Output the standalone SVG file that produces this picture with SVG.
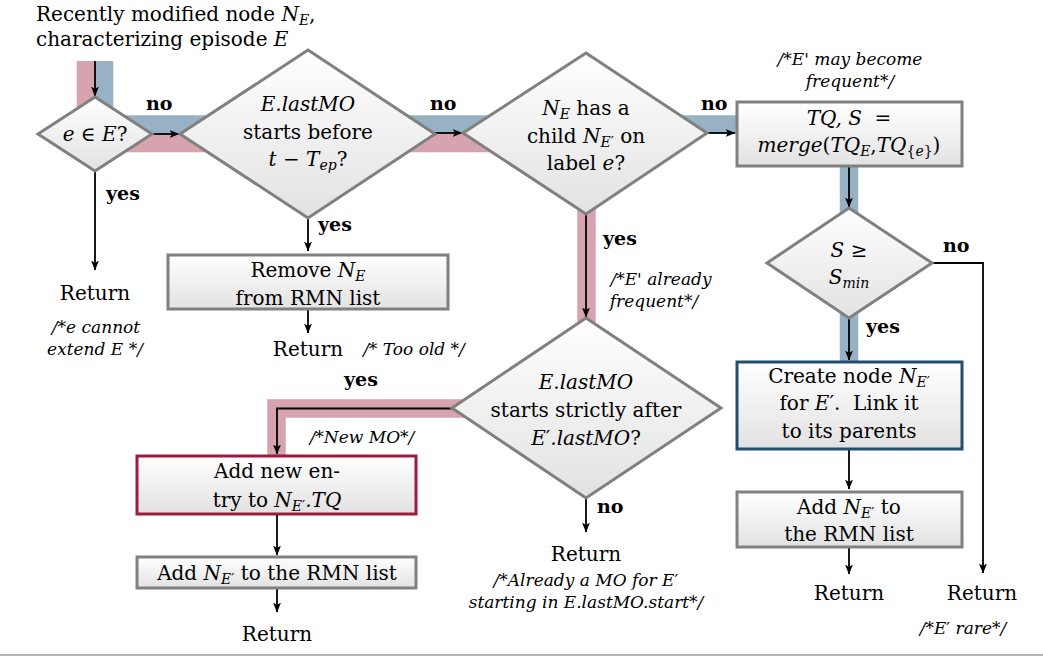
<svg xmlns="http://www.w3.org/2000/svg" width="1043" height="656" viewBox="0 0 1043 656">
  <defs>
    <linearGradient id="g" x1="0" y1="0" x2="0" y2="1">
      <stop offset="0" stop-color="#ffffff"/>
      <stop offset="1" stop-color="#e2e2e2"/>
    </linearGradient>
    <marker id="arr" markerUnits="userSpaceOnUse" markerWidth="10" markerHeight="8" refX="9.5" refY="4" orient="auto">
      <path d="M0,0 L10,4 L0,8 L2.5,4 z" fill="#000"/>
    </marker>
  </defs>
  <style>
    .t{font-family:"DejaVu Serif","Liberation Serif",serif;font-size:20px;fill:#000;text-anchor:middle}
    .l{text-anchor:start}
    .m{font-style:italic}
    .n{font-style:normal}
    .s{font-size:14px}
    .c{font-family:"DejaVu Serif","Liberation Serif",serif;font-style:italic;font-size:17px;fill:#000;text-anchor:middle}
    .b{font-family:"DejaVu Serif","Liberation Serif",serif;font-weight:bold;font-size:19px;fill:#000}
    .shape{fill:url(#g);stroke:#808080;stroke-width:3}
    .red{stroke:#9a1b3b}
    .blue{stroke:#1f4e6e}
    .ln{stroke:#000;stroke-width:1.8;fill:none}
    .arr{marker-end:url(#arr)}
    .band{fill:none;stroke-width:18.5;stroke-linejoin:miter}
  </style>

  <rect width="1043" height="656" fill="#fff"/>

  <!-- highlighted paths through the flow -->
  <g id="bands">
    <path class="band" stroke="#d6a3ae" d="M86,61 V143 H586.5 V408.5 H276.5 V456"/>
    <path class="band" stroke="#97b1c5" d="M104,61 V124.5 H849 V362"/>
  </g>

  <!-- connectors -->
  <g id="connectors">
    <path class="ln arr" d="M95,61 V96"/>
    <path class="ln arr" d="M152,134 H179"/>
    <path class="ln arr" d="M95,172 V270"/>
    <path class="ln arr" d="M308,218 V251"/>
    <path class="ln arr" d="M308,309 V333"/>
    <path class="ln arr" d="M435,133 H462"/>
    <path class="ln arr" d="M707,133 H735"/>
    <path class="ln arr" d="M586,214 V317"/>
    <path class="ln arr" d="M849,166 V207"/>
    <path class="ln arr" d="M849,318 V360"/>
    <path class="ln arr" d="M932,263 H983 V573"/>
    <path class="ln arr" d="M849,449 V489"/>
    <path class="ln arr" d="M849,547 V574"/>
    <path class="ln arr" d="M452,408.5 H277 V454"/>
    <path class="ln arr" d="M586,498 V532"/>
    <path class="ln arr" d="M277,514 V555"/>
    <path class="ln arr" d="M277,588 V612"/>
  </g>

  <!-- branch labels -->
  <g id="labels">
    <text class="b" x="146" y="110">no</text>
    <text class="b" x="430" y="110">no</text>
    <text class="b" x="701" y="110">no</text>
    <text class="b" x="943" y="252">no</text>
    <text class="b" x="106" y="200">yes</text>
    <text class="b" x="318" y="231">yes</text>
    <text class="b" x="603" y="245">yes</text>
    <text class="b" x="866" y="333">yes</text>
    <text class="b" x="344" y="386">yes</text>
    <text class="b" x="597" y="513">no</text>
  </g>

  <!-- start text -->
  <g id="start">
    <text class="t l" x="36" y="21">Recently modified node <tspan class="m">N</tspan><tspan class="m s" dy="4">E</tspan><tspan dy="-4">,</tspan></text>
    <text class="t l" x="36" y="46">characterizing episode <tspan class="m">E</tspan></text>
  </g>

  <g id="d1">
    <polygon class="shape" points="95,97 152,134 95,171 38,134"/>
    <text class="t" x="95" y="141"><tspan class="m">e</tspan> ∈ <tspan class="m">E</tspan>?</text>
  </g>

  <g id="d2">
    <polygon class="shape" points="308,50 435,134 308,218 180,134"/>
    <text class="t" x="308" y="111"><tspan class="m">E.lastMO</tspan></text>
    <text class="t" x="308" y="139">starts before</text>
    <text class="t" x="308" y="166"><tspan class="m">t</tspan> − <tspan class="m">T</tspan><tspan class="m s" dy="4">ep</tspan><tspan dy="-4">?</tspan></text>
  </g>

  <g id="d3">
    <polygon class="shape" points="586,53 707,133 586,214 463,133"/>
    <text class="t" x="586" y="115"><tspan class="m">N</tspan><tspan class="m s" dy="4">E</tspan><tspan dy="-4"> has a</tspan></text>
    <text class="t" x="586" y="143">child <tspan class="m">N</tspan><tspan class="m s" dy="4">E</tspan><tspan class="s">′</tspan><tspan dy="-4"> on</tspan></text>
    <text class="t" x="586" y="170">label <tspan class="m">e</tspan>?</text>
  </g>

  <g id="merge">
    <text class="c" x="850" y="65">/*E' may become</text>
    <text class="c" x="850" y="87">frequent*/</text>
    <rect class="shape" x="737" y="102" width="225" height="64"/>
    <text class="t" x="849" y="125" xml:space="preserve"><tspan class="m">TQ, S</tspan>  =</text>
    <text class="t" x="849" y="152"><tspan class="m">merge</tspan>(<tspan class="m">TQ</tspan><tspan class="m s" dy="4">E</tspan><tspan dy="-4">,</tspan><tspan class="m">TQ</tspan><tspan class="s" dy="4">{</tspan><tspan class="m s">e</tspan><tspan class="s">}</tspan><tspan dy="-4">)</tspan></text>
  </g>

  <g id="d5">
    <polygon class="shape" points="849,208 932,263 849,318 767,263"/>
    <text class="t" x="849" y="257"><tspan class="m">S</tspan> ≥</text>
    <text class="t" x="849" y="284"><tspan class="m">S</tspan><tspan class="m s" dy="4">min</tspan></text>
  </g>

  <g id="ret1">
    <text class="t" x="95" y="300">Return</text>
    <text class="c" x="96" y="333">/*e cannot</text>
    <text class="c" x="95" y="355">extend E */</text>
  </g>

  <g id="remove">
    <rect class="shape" x="168" y="255" width="280" height="54"/>
    <text class="t" x="308" y="277">Remove <tspan class="m">N</tspan><tspan class="m s" dy="4">E</tspan></text>
    <text class="t" x="308" y="305">from RMN list</text>
  </g>

  <g id="ret2">
    <text class="t" x="308" y="356">Return</text>
    <text class="c" x="414" y="355">/* Too old */</text>
  </g>

  <g id="note-frequent">
    <text class="c" x="661" y="285">/*E' already</text>
    <text class="c" x="654" y="307">frequent*/</text>
  </g>

  <g id="d4">
    <polygon class="shape" points="586,318 721,408 586,498 452,408"/>
    <text class="t" x="586" y="389"><tspan class="m">E.lastMO</tspan></text>
    <text class="t" x="586" y="417">starts strictly after</text>
    <text class="t" x="586" y="445"><tspan class="m">E</tspan>′<tspan class="m">.lastMO</tspan>?</text>
  </g>

  <g id="ret3">
    <text class="t" x="586" y="561">Return</text>
    <text class="c" x="586" y="586">/*Already a MO for E<tspan class="n">′</tspan></text>
    <text class="c" x="586" y="608">starting in E.lastMO.start*/</text>
  </g>

  <g id="newentry">
    <text class="c" x="362" y="443">/*New MO*/</text>
    <rect class="shape red" x="137" y="456" width="279" height="58"/>
    <text class="t" x="277" y="478">Add new en-</text>
    <text class="t" x="277" y="507">try to <tspan class="m">N</tspan><tspan class="m s" dy="4">E</tspan><tspan class="s">′</tspan><tspan class="m" dy="-4">.TQ</tspan></text>
  </g>

  <g id="addrmn1">
    <rect class="shape" x="137" y="557" width="279" height="31"/>
    <text class="t" x="277" y="580">Add <tspan class="m">N</tspan><tspan class="m s" dy="4">E</tspan><tspan class="s">′</tspan><tspan dy="-4"> to the RMN list</tspan></text>
  </g>

  <g id="ret4">
    <text class="t" x="277" y="641">Return</text>
  </g>

  <g id="create">
    <rect class="shape blue" x="737" y="362" width="225" height="87"/>
    <text class="t" x="849" y="383">Create node <tspan class="m">N</tspan><tspan class="m s" dy="4">E</tspan><tspan class="s">′</tspan></text>
    <text class="t" x="849" y="410" xml:space="preserve">for <tspan class="m">E</tspan>′.  Link it</text>
    <text class="t" x="849" y="438">to its parents</text>
  </g>

  <g id="addrmn2">
    <rect class="shape" x="737" y="492" width="225" height="55"/>
    <text class="t" x="849" y="514">Add <tspan class="m">N</tspan><tspan class="m s" dy="4">E</tspan><tspan class="s">′</tspan><tspan dy="-4"> to</tspan></text>
    <text class="t" x="849" y="541">the RMN list</text>
  </g>

  <g id="ret5">
    <text class="t" x="849" y="600">Return</text>
  </g>

  <g id="ret6">
    <text class="t" x="982" y="600">Return</text>
    <text class="c" x="963" y="634">/*E<tspan class="n">′</tspan> rare*/</text>
  </g>

  <line x1="0" y1="655" x2="1043" y2="655" stroke="#9a9a9a" stroke-width="1.5"/>
</svg>
